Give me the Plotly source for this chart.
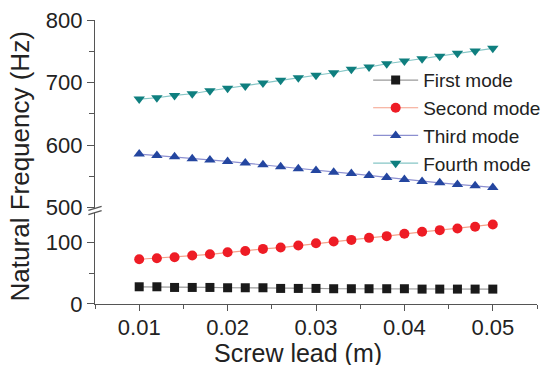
import plotly.graph_objects as go

lead = [0.010, 0.012, 0.014, 0.016, 0.018, 0.020, 0.022, 0.024, 0.026, 0.028, 0.030,
        0.032, 0.034, 0.036, 0.038, 0.040, 0.042, 0.044, 0.046, 0.048, 0.050]
first_mode = [28.1, 28.1, 27.0, 27.0, 27.0, 26.5, 26.5, 26.5, 25.4, 25.4, 25.4,
              24.9, 24.9, 24.9, 24.9, 24.9, 24.3, 24.3, 24.3, 24.3, 24.3]
second_mode = [73.0, 74.6, 76.2, 79.0, 81.1, 84.4, 86.6, 89.9, 92.1, 95.4, 99.2,
               101.9, 104.6, 107.9, 110.7, 114.5, 117.8, 120.5, 123.2, 126.0, 129.8]
third_mode = [585.6, 583.5, 581.3, 578.1, 576.0, 573.9, 571.2, 568.5, 565.3, 562.1, 559.5,
              556.8, 554.7, 551.5, 548.3, 545.1, 541.9, 539.7, 537.1, 534.9, 532.3]
fourth_mode = [673.6, 675.7, 679.5, 682.1, 686.9, 690.7, 694.4, 699.2, 703.5, 707.7, 711.5,
               715.7, 721.1, 724.8, 730.1, 734.4, 738.1, 741.9, 746.7, 750.4, 754.7]

names = ["First mode", "Second mode", "Third mode", "Fourth mode"]

FONT = "Arial, Liberation Sans, sans-serif"
AX = "#555555"

fig = go.Figure()
fig.add_trace(go.Scatter(x=lead, y=first_mode, name=names[0], mode="lines+markers", yaxis="y",
                         line=dict(color="#9a9a9a", width=1.2),
                         marker=dict(symbol="square", size=9, color="#1a1a1a")))
fig.add_trace(go.Scatter(x=lead, y=second_mode, name=names[1], mode="lines+markers", yaxis="y",
                         line=dict(color="#f5a08a", width=1.2),
                         marker=dict(symbol="circle", size=10, color="#ee1c25")))
fig.add_trace(go.Scatter(x=lead, y=third_mode, name=names[2], mode="lines+markers", yaxis="y2",
                         line=dict(color="#8c8fd0", width=1.2),
                         marker=dict(symbol="triangle-up", size=10, color="#2446a0")))
fig.add_trace(go.Scatter(x=lead, y=fourth_mode, name=names[3], mode="lines+markers", yaxis="y2",
                         line=dict(color="#86c6c6", width=1.2),
                         marker=dict(symbol="triangle-down", size=10, color="#0f7f7f")))

tickfont = dict(family=FONT, size=22, color="#222222")
common_y = dict(showline=True, linecolor=AX, linewidth=1.3, ticks="outside", ticklen=7,
                tickwidth=1.3, tickcolor=AX, showgrid=False, zeroline=False, tickfont=tickfont,
                dtick=100, automargin=False,
                minor=dict(ticks="outside", ticklen=5, tickwidth=1.3, tickcolor=AX, dtick=50))

fig.update_layout(
    width=548, height=367,
    margin=dict(l=95, r=11, t=20, b=62.5, autoexpand=False),
    plot_bgcolor="white", paper_bgcolor="white",
    font=dict(family=FONT, color="#222222"),
    xaxis=dict(range=[0.005, 0.055], dtick=0.01, tick0=0.01, showline=True, linecolor=AX,
               linewidth=1.3, ticks="outside", ticklen=6, tickwidth=1.3, tickcolor=AX,
               showgrid=False, zeroline=False, tickfont=tickfont, anchor="y", automargin=False,
               ticklabelstandoff=-3,
               minor=dict(ticks="outside", ticklen=3.5, tickwidth=1.3, tickcolor=AX, dtick=0.005)),
    yaxis=dict(domain=[0, 0.3216], range=[0, 149], **common_y),
    yaxis2=dict(domain=[0.3357, 1], range=[498.4, 800], anchor="x", **common_y),
    legend=dict(x=0.618, y=0.855, xanchor="left", yanchor="top", bgcolor="rgba(0,0,0,0)",
                font=dict(family=FONT, size=19, color="#222222"), tracegroupgap=0,
                itemwidth=45),
    showlegend=True,
)

# axis titles
fig.add_annotation(text="Natural Frequency (Hz)", xref="paper", yref="paper",
                   x=-0.17, y=0.484, xanchor="center", yanchor="middle", textangle=-90,
                   showarrow=False, font=dict(family=FONT, size=26, color="#222222"))
fig.add_annotation(text="Screw lead (m)", xref="paper", yref="paper",
                   x=0.46, y=-0.174, xanchor="center", yanchor="middle", height=24,
                   showarrow=False, font=dict(family=FONT, size=25, color="#222222"))

# axis break marks
for dy in (0, 4.3):
    fig.add_shape(type="line", xref="paper", yref="paper",
                  x0=-0.015, x1=0.015,
                  y0=(304.5 - 210.7 - dy) / 284.5, y1=(304.5 - 206.7 - dy) / 284.5,
                  line=dict(color=AX, width=1.3))

fig.write_html("out.html")
